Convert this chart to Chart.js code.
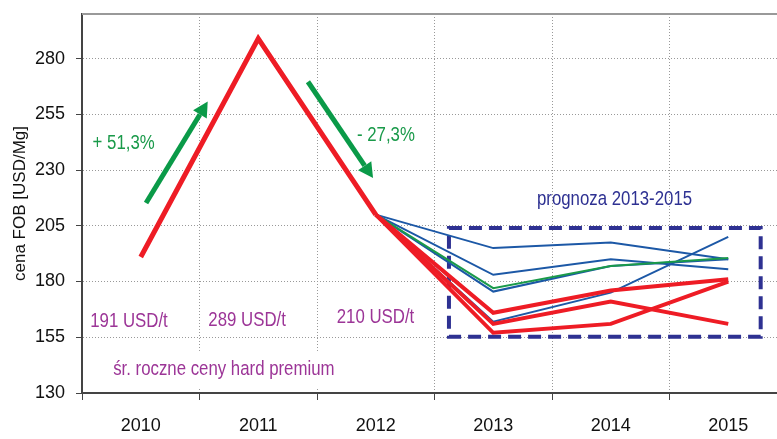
<!DOCTYPE html>
<html>
<head>
<meta charset="utf-8">
<title>Ceny węgla hard premium</title>
<script src="https://cdn.jsdelivr.net/npm/chart.js"></script>
<style>
  html, body { margin: 0; padding: 0; background: #fff; overflow: hidden; }
  canvas { display: block; }
</style>
</head>
<body>
<canvas id="chart" width="787" height="439"></canvas>
<script>
// lata i osie
const years = ['2010', '2011', '2012', '2013', '2014', '2015'];
const yTicks = [130, 155, 180, 205, 230, 255, 280];

// średnie roczne ceny
const history = [191, 289, 210, null, null, null];

// prognozy 2013-2015 (start od 210 w 2012)
const redA = [null, null, 210, 166, 176, 181];
const redB = [null, null, 210, 161, 171, 161];
const redC = [null, null, 210, 157, 161, 180];
const green1 = [null, null, 210, 177, 187, 190.5];
const blue1 = [null, null, 210, 195, 197.5, 190];
const blue2 = [null, null, 210, 183, 190, 185.5];
const blue3 = [null, null, 210, 175.5, 187, 190];
const blue4 = [null, null, 210, 162, 175, 200];

const FONT = "'Liberation Sans', Arial, sans-serif";
const RED = '#ee1c25', BLUE = '#1c58a6', GREEN = '#1a9a4a';
const PURPLE = '#9c3597', NAVY = '#2e3192', ARROW = '#0a9a48';

// opisy na wykresie (pozycje w jednostkach osi)
const notes = [
    { text: '+ 51,3%', x: -0.41, y: 242, color: GREEN },
    { text: '- 27,3%', x: 1.84, y: 245.5, color: GREEN },
    { text: '191 USD/t', x: -0.43, y: 162.3, color: PURPLE },
    { text: '289 USD/t', x: 0.575, y: 162.7, color: PURPLE },
    { text: '210 USD/t', x: 1.668, y: 163.9, color: PURPLE },
    { text: 'prognoza 2013-2015', x: 3.372, y: 216.7, color: NAVY }
];
const footNote = { text: 'śr. roczne ceny hard premium', x: -0.235, y: 140.8, color: PURPLE };
const arrows = [
    { from: [0.045, 215.2], to: [0.57, 260.7] },
    { from: [1.423, 269.6], to: [1.977, 226.4] }
];
const forecastBox = { x1: 2.623, x2: 5.276, y1: 155.25, y2: 204 };

// wąski krój jak w oryginale: ściśnięty Liberation Sans
const NARROW = 0.82;
function narrowText(ctx, text, px, py) {
    ctx.save();
    ctx.translate(px, py);
    ctx.scale(NARROW, 1);
    ctx.fillText(text, 0, 0);
    ctx.restore();
}

function drawArrow(ctx, x1, y1, x2, y2) {
    const ang = Math.atan2(y2 - y1, x2 - x1);
    const head = 15, half = 8;
    const bx = x2 - head * Math.cos(ang), by = y2 - head * Math.sin(ang);
    ctx.strokeStyle = ARROW;
    ctx.fillStyle = ARROW;
    ctx.lineWidth = 5;
    ctx.beginPath();
    ctx.moveTo(x1, y1);
    ctx.lineTo(bx, by);
    ctx.stroke();
    ctx.beginPath();
    ctx.moveTo(x2, y2);
    ctx.lineTo(bx + half * Math.sin(ang), by - half * Math.cos(ang));
    ctx.lineTo(bx - half * Math.sin(ang), by + half * Math.cos(ang));
    ctx.closePath();
    ctx.fill();
}

const extras = {
    id: 'extras',
    beforeDatasetsDraw(chart) {
        const { ctx, chartArea, scales: { x, y } } = chart;
        ctx.save();
        // górna ramka
        ctx.strokeStyle = '#999';
        ctx.lineWidth = 2;
        ctx.beginPath();
        ctx.moveTo(chartArea.left, chartArea.top);
        ctx.lineTo(chartArea.right, chartArea.top);
        ctx.stroke();

        // podpis z białym tłem
        ctx.font = '20.5px ' + FONT;
        ctx.textBaseline = 'middle';
        const fx = x.getPixelForValue(footNote.x), fy = y.getPixelForValue(footNote.y);
        const w = ctx.measureText(footNote.text).width * NARROW;
        ctx.fillStyle = '#fff';
        ctx.fillRect(fx - 8, fy - 18, w + 16, 37);
        ctx.fillStyle = footNote.color;
        narrowText(ctx, footNote.text, fx, fy);

        // ramka prognozy
        ctx.strokeStyle = NAVY;
        ctx.lineWidth = 4;
        ctx.setLineDash([13, 7]);
        const bx1 = x.getPixelForValue(forecastBox.x1), bx2 = x.getPixelForValue(forecastBox.x2);
        const by1 = y.getPixelForValue(forecastBox.y2), by2 = y.getPixelForValue(forecastBox.y1);
        ctx.strokeRect(bx1, by1, bx2 - bx1, by2 - by1);
        ctx.restore();
    },
    afterDatasetsDraw(chart) {
        const { ctx, scales: { x, y } } = chart;
        ctx.save();
        ctx.font = '20.5px ' + FONT;
        ctx.textBaseline = 'middle';
        notes.forEach(n => {
            ctx.fillStyle = n.color;
            narrowText(ctx, n.text, x.getPixelForValue(n.x), y.getPixelForValue(n.y));
        });
        arrows.forEach(a => {
            drawArrow(ctx, x.getPixelForValue(a.from[0]), y.getPixelForValue(a.from[1]),
                x.getPixelForValue(a.to[0]), y.getPixelForValue(a.to[1]));
        });
        ctx.restore();
    }
};

const line = (data, color, width) => ({
    data: data,
    borderColor: color,
    backgroundColor: color,
    borderWidth: width,
    pointRadius: 0,
    tension: 0,
    fill: false
});

new Chart(document.getElementById('chart'), {
    type: 'line',
    data: {
        labels: years,
        // pierwszy zbiór rysowany na wierzchu
        datasets: [
            line(history, RED, 5),
            line(redA, RED, 4),
            line(redB, RED, 4),
            line(redC, RED, 4),
            line(green1, GREEN, 2),
            line(blue1, BLUE, 2),
            line(blue2, BLUE, 2),
            line(blue3, BLUE, 2),
            line(blue4, BLUE, 2)
        ]
    },
    options: {
        responsive: false,
        animation: false,
        layout: { padding: { top: 14, left: 0, right: 0, bottom: 0 } },
        plugins: {
            legend: { display: false },
            tooltip: { enabled: false }
        },
        scales: {
            x: {
                offset: true,
                afterFit: s => { s.height = 46; s.paddingLeft = 0; s.paddingRight = 0; },
                grid: { offset: true, color: '#999', tickColor: '#444', tickLength: 7, tickBorderDash: [] },
                border: { color: '#444', width: 2, dash: [1, 2] },
                ticks: { color: '#111', padding: 15, font: { family: FONT, size: 18 } }
            },
            y: {
                min: 130,
                max: 300,
                afterBuildTicks: s => { s.ticks = yTicks.map(v => ({ value: v })); },
                afterFit: s => { s.width = 82; s.paddingTop = 0; s.paddingBottom = 0; },
                grid: { color: '#999', tickColor: '#444', tickLength: 6, tickBorderDash: [] },
                border: { color: '#444', width: 2, dash: [1, 2] },
                ticks: { color: '#111', padding: 11, font: { family: FONT, size: 18 } },
                title: {
                    display: true,
                    text: 'cena FOB [USD/Mg]',
                    color: '#111',
                    padding: { top: 10, bottom: 0 },
                    font: { family: FONT, size: 17 }
                }
            }
        }
    },
    plugins: [extras]
});
</script>
</body>
</html>
